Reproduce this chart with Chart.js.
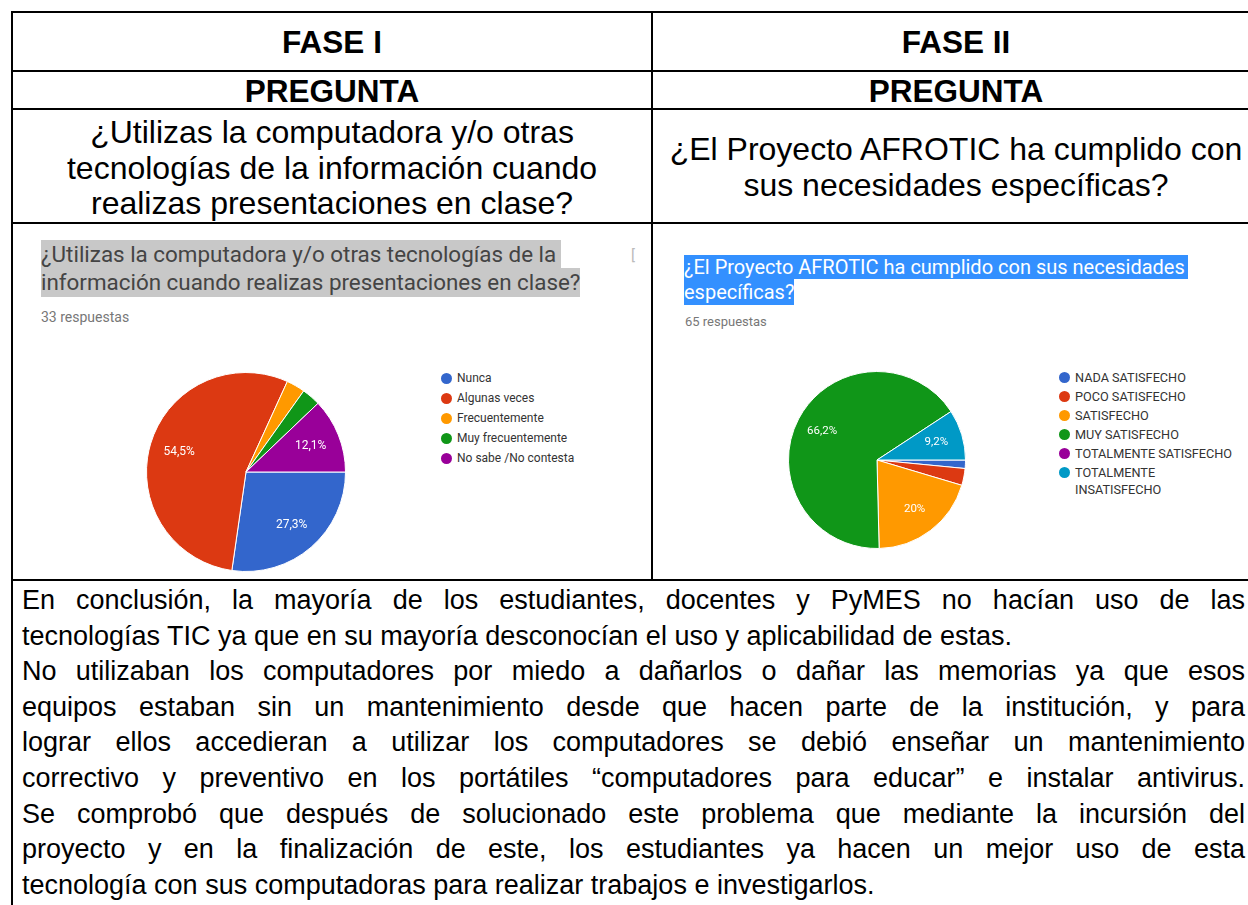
<!DOCTYPE html>
<html>
<head>
<meta charset="utf-8">
<script src="https://cdn.jsdelivr.net/npm/chart.js@4.4.0/dist/chart.umd.min.js"></script>
<style>
  html, body { margin: 0; padding: 0; background: #fff; }
  body { width: 1248px; height: 905px; position: relative; overflow: hidden; }
  .ln { position: absolute; background: #000; }
  .cell { position: absolute; font-family: "Liberation Sans", Arial, sans-serif; color: #000; text-align: center; white-space: nowrap; }
  .hdr { font-weight: bold; font-size: 31.5px; }
  .q { font-size: 32px; line-height: 35.5px; }
  .gtitle { position: absolute; font-family: Roboto, sans-serif; }
  .gtitle div { display: table; white-space: nowrap; }
  .resp { position: absolute; font-family: Roboto, sans-serif; color: #777; }
  .legend { position: absolute; font-family: Roboto, sans-serif; color: #333; }
  .legend .it { position: relative; padding-left: 10px; line-height: 17px; }
  .legend .dot { position: absolute; left: -6px; top: 3px; width: 11px; height: 11px; border-radius: 50%; }
  .para { position: absolute; left: 22px; top: 583px; width: 1223px; font-family: "Liberation Sans", Arial, sans-serif; font-size: 27px; line-height: 35.6px; color: #000; }
  .para div { white-space: nowrap; }
  .para .j { text-align: justify; text-align-last: justify; white-space: normal; }
</style>
</head>
<body>
<!-- table lines -->
<div class="ln" style="left:11px;top:11px;width:1260px;height:2px"></div>
<div class="ln" style="left:11px;top:70px;width:1260px;height:2px"></div>
<div class="ln" style="left:11px;top:108px;width:1260px;height:2px"></div>
<div class="ln" style="left:11px;top:222px;width:1260px;height:2px"></div>
<div class="ln" style="left:11px;top:579px;width:1260px;height:2px"></div>
<div class="ln" style="left:11px;top:11px;width:2px;height:900px"></div>
<div class="ln" style="left:651px;top:11px;width:2px;height:570px"></div>

<div class="cell hdr" style="left:13px;top:13px;width:638px;height:57px;line-height:58px">FASE I</div>
<div class="cell hdr" style="left:653px;top:13px;width:606px;height:57px;line-height:58px">FASE II</div>
<div class="cell hdr" style="left:13px;top:72px;width:638px;height:36px;line-height:38px">PREGUNTA</div>
<div class="cell hdr" style="left:653px;top:72px;width:606px;height:36px;line-height:38px">PREGUNTA</div>
<div class="cell q" style="left:13px;top:115px;width:638px">¿Utilizas la computadora y/o otras<br>tecnologías de la información cuando<br>realizas presentaciones en clase?</div>
<div class="cell q" style="left:653px;top:132px;width:606px">¿El Proyecto AFROTIC ha cumplido con<br>sus necesidades específicas?</div>

<!-- chart 1 -->
<div class="gtitle" style="left:41px;top:240px;font-size:22.4px;color:#444">
  <div style="background:#c8c8c8;height:28px;line-height:28px;padding-right:5px">¿Utilizas la computadora y/o otras tecnologías de la</div>
  <div style="background:#c8c8c8;height:29px;line-height:29px">información cuando realizas presentaciones en clase?</div>
</div>
<div class="resp" style="left:631px;top:246px;font-size:15px;color:#bbb">[</div>
<div class="resp" style="left:41px;top:309px;font-size:14px">33 respuestas</div>
<canvas id="pie1" width="202" height="202" style="position:absolute;left:145px;top:371px"></canvas>
<div class="legend" id="leg1" style="left:447px;top:370px;font-size:12px"></div>

<!-- chart 2 -->
<div class="gtitle" style="left:684px;top:255px;font-size:20px;color:#fff">
  <div style="background:#3390ff;height:24px;line-height:24px;padding-right:3px">¿El Proyecto AFROTIC ha cumplido con sus necesidades</div>
  <div style="background:#3390ff;height:26px;line-height:26px">específicas?</div>
</div>
<div class="resp" style="left:685px;top:314px;font-size:13px">65 respuestas</div>
<canvas id="pie2" width="180" height="180" style="position:absolute;left:787px;top:370px"></canvas>
<div class="legend" id="leg2" style="left:1065px;top:369px;width:170px;font-size:12.7px"></div>

<div class="para">
  <div class="j">En conclusión, la mayoría de los estudiantes, docentes y PyMES no hacían uso de las</div>
  <div>tecnologías TIC ya que en su mayoría desconocían el uso y aplicabilidad de estas.</div>
  <div class="j">No utilizaban los computadores por miedo a dañarlos o dañar las memorias ya que esos</div>
  <div class="j">equipos estaban sin un mantenimiento desde que hacen parte de la institución, y para</div>
  <div class="j">lograr ellos accedieran a utilizar los computadores se debió enseñar un mantenimiento</div>
  <div class="j">correctivo y preventivo en los portátiles “computadores para educar” e instalar antivirus.</div>
  <div class="j">Se comprobó que después de solucionado este problema que mediante la incursión del</div>
  <div class="j">proyecto y en la finalización de este, los estudiantes ya hacen un mejor uso de esta</div>
  <div>tecnología con sus computadoras para realizar trabajos e investigarlos.</div>
</div>

<script>
// Fase I: 33 respuestas
const labels1 = ["Nunca", "Algunas veces", "Frecuentemente", "Muy frecuentemente", "No sabe /No contesta"];
const counts1 = [9, 18, 1, 1, 4];
const colors1 = ["#3366cc", "#dc3912", "#ff9900", "#109618", "#990099"];

// Fase II: 65 respuestas
const labels2 = ["NADA SATISFECHO", "POCO SATISFECHO", "SATISFECHO", "MUY SATISFECHO", "TOTALMENTE SATISFECHO", "TOTALMENTE INSATISFECHO"];
const counts2 = [1, 2, 13, 43, 0, 6];
const colors2 = ["#3366cc", "#dc3912", "#ff9900", "#109618", "#990099", "#0099c6"];

function fmtPct(v) {
  let s = v.toFixed(1);
  if (s.endsWith(".0")) s = s.slice(0, -2);
  return s.replace(".", ",") + "%";
}

// percent labels inside slices, like google forms (only big slices)
const pctLabels = {
  id: "pctLabels",
  afterDatasetsDraw(chart, args, opts) {
    const ctx = chart.ctx;
    const data = chart.data.datasets[0].data;
    const total = data.reduce((a, b) => a + b, 0);
    ctx.save();
    ctx.fillStyle = "#fff";
    ctx.font = (opts.size || 12) + "px Roboto, sans-serif";
    ctx.textAlign = "center";
    ctx.textBaseline = "middle";
    chart.getDatasetMeta(0).data.forEach((arc, i) => {
      const pct = data[i] / total * 100;
      if (pct < 5) return;
      const p = arc.getProps(["x", "y", "startAngle", "endAngle", "outerRadius"], true);
      const mid = (p.startAngle + p.endAngle) / 2;
      const r = p.outerRadius * 0.7;
      ctx.fillText(fmtPct(pct), p.x + Math.cos(mid) * r, p.y + Math.sin(mid) * r);
    });
    ctx.restore();
  }
};

function makePie(id, labels, counts, colors, size) {
  return new Chart(document.getElementById(id), {
    type: "pie",
    data: {
      labels: labels,
      datasets: [{ data: counts, backgroundColor: colors, borderColor: "#fff", borderWidth: 1 }]
    },
    options: {
      responsive: false,
      animation: false,
      rotation: 90,
      layout: { padding: 1 },
      plugins: {
        legend: { display: false },
        tooltip: { enabled: false },
        pctLabels: { size: size }
      }
    },
    plugins: [pctLabels]
  });
}

function makeLegend(id, labels, colors, gap) {
  const el = document.getElementById(id);
  labels.forEach((l, i) => {
    const it = document.createElement("div");
    it.className = "it";
    it.style.marginBottom = gap + "px";
    it.innerHTML = '<span class="dot" style="background:' + colors[i] + '"></span>' + l;
    el.appendChild(it);
  });
}

makePie("pie1", labels1, counts1, colors1, 12);
makePie("pie2", labels2, counts2, colors2, 11.5);
makeLegend("leg1", labels1, colors1, 3);
makeLegend("leg2", labels2, colors2, 2);
</script>
</body>
</html>
